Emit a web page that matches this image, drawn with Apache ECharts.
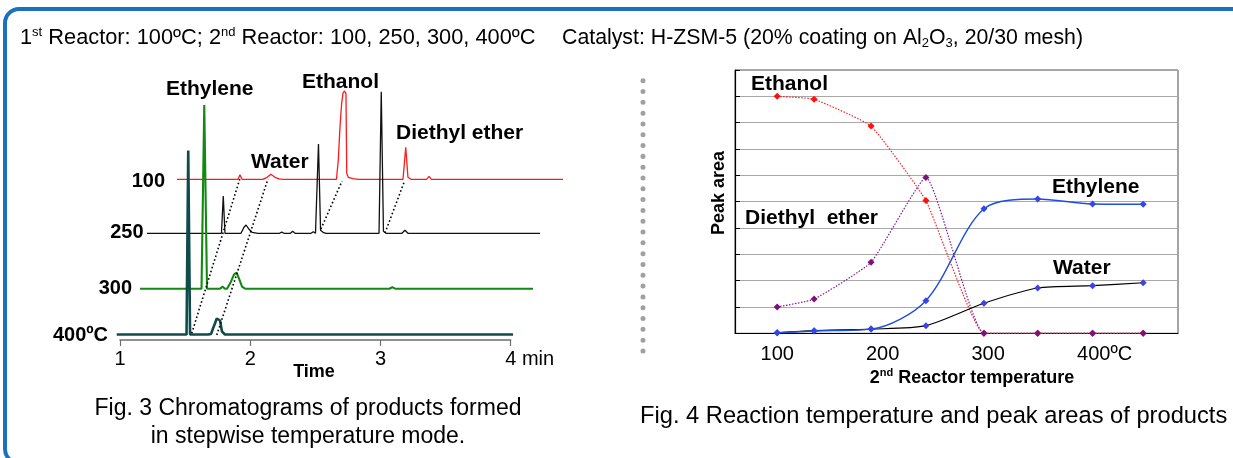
<!DOCTYPE html>
<html><head><meta charset="utf-8">
<script src="https://cdn.jsdelivr.net/npm/echarts@6/dist/echarts.min.js"></script>
<style>html,body{margin:0;padding:0;background:#fff}#c{width:1233px;height:458px}</style>
</head><body><div id="c"></div>
<script>
// ===== Fig. 3: chromatograms. Points are [time read on the axis (min), signal above the trace's own baseline]
const trace100 = [[1.438,0],[1.906,0],[1.921,4.5],[1.937,0],[2.098,0],[2.129,2],[2.159,5],[2.190,2],[2.221,0.5],[2.252,0],
  [2.662,0],[2.676,19],[2.689,52],[2.702,76],[2.712,86],[2.722,88.3],[2.735,86],[2.741,6],[2.753,2],[2.789,0.6],[2.828,0],
  [3.173,0],[3.194,32],[3.211,2],[3.234,0],[3.354,0],[3.373,3],[3.392,0],[4.402,0]];
const trace250 = [[1.207,0],[1.779,0],[1.793,37.3],[1.806,0],[1.929,0],[1.952,6],[1.968,8.3],[1.991,4],[2.014,1],[2.037,0.5],[2.060,0],
  [2.098,0],[2.113,1.5],[2.129,0],[2.225,0],[2.242,1.2],[2.259,0],[2.309,0],[2.326,2],[2.344,0],[2.398,0],[2.413,1.5],[2.428,0],
  [2.467,0],[2.484,1.5],[2.501,0],[2.524,89.3],[2.540,3],[2.559,1],[2.582,0],
  [2.989,0],[3.006,141.6],[3.023,2],[3.043,0],[3.165,0],[3.188,3],[3.211,0],[4.225,0]];
const trace300 = [[1.154,0],[1.626,0],[1.647,183.7],[1.668,0],[1.768,0],[1.789,2],[1.806,0],[1.822,0],[1.852,7],[1.875,14],
  [1.895,16],[1.914,10],[1.937,2],[1.960,0],[3.069,0],[3.091,1.5],[3.112,0],[4.171,0]];
const trace400 = [[0.975,0],[1.511,0],[1.524,184],[1.538,0],[1.676,0],[1.691,2],[1.699,0.5],[1.714,6],[1.729,11],[1.743,16],
  [1.753,17],[1.768,14],[1.783,3],[1.806,0],[4.018,0]];
const traceNames = ['100', '250', '300', '400ºC'];
const traceBaselines = [160.7, 106.7, 51.3, 5.5];
const timeTicks = [1, 2, 3, 4];
// dotted guide lines joining the same compound across traces: [time, level]
const guideEthylene = [[1.551, 6.7], [1.921, 161.5]];
const guideWater = [[1.743, 5], [2.136, 161]];
const guideEthanol = [[2.543, 111], [2.705, 159]];
const guideEther = [[3.035, 107], [3.185, 159]];
const peakNames = ['Ethylene', 'Water', 'Ethanol', 'Diethyl ether'];

// ===== Fig. 4: peak areas vs 2nd reactor temperature
const reactorTemps = [100, 135, 189, 241, 296, 347, 399, 447];
const ethanolArea = [9.0, 8.89, 7.87, 5.04, 0, 0, 0, 0];
const etherArea = [1.0, 1.3, 2.7, 5.92, 0, 0, 0, 0];
const ethyleneArea = [0.02, 0.09, 0.16, 1.24, 4.73, 5.10, 4.91, 4.90];
const waterArea = [0.02, 0.10, 0.16, 0.29, 1.14, 1.72, 1.81, 1.92];
const tempTicks = [100, 200, 300, 400];

const FF = '"Liberation Sans", Arial, sans-serif';
const chart = echarts.init(document.getElementById('c'), null, {renderer: 'canvas'});

// time scale shared by the trace grid (wide, hidden axis) and the visible axis grid
const PX_PER_MIN = 390.7 / 3;
const TRACE_MIN = 0.9, TRACE_MAX = 4.5;

const traces = [trace100, trace250, trace300, trace400];
const traceStyles = [
  {color: '#ff1a1a', width: 1.3},
  {color: '#111111', width: 1.3},
  {color: '#128a12', width: 2.1},
  {color: '#0f4b4b', width: 2.6}
];
const traceSeries = traces.map((tr, i) => ({
  type: 'line', xAxisIndex: 0, yAxisIndex: 0, symbol: 'none', clip: false, animation: false,
  data: tr.map(p => [p[0], p[1] + traceBaselines[i]]),
  lineStyle: traceStyles[i], z: 2 + i
}));
const guideSeries = [guideEthylene, guideWater, guideEthanol, guideEther].map(g => ({
  type: 'line', xAxisIndex: 0, yAxisIndex: 0, symbol: 'none', clip: false, animation: false,
  data: g, lineStyle: {color: '#000', width: 1.6, type: [1.6, 2.4]}, z: 10
}));

function xy(arr) { return reactorTemps.map((t, i) => [t, arr[i]]); }
const rightSeries = [
  {name: 'Ethanol', data: xy(ethanolArea), line: {color: '#ff2020', width: 1.2, type: [1.5, 1.5]}, mk: '#ff1010', sm: 0.12},
  {name: 'Diethyl ether', data: xy(etherArea), line: {color: '#8a1a8a', width: 1.2, type: [1.5, 1.5]}, mk: '#7a147a', sm: 0.14},
  {name: 'Water', data: xy(waterArea), line: {color: '#000', width: 1.2}, mk: '#3f43e0', sm: 0.25},
  {name: 'Ethylene', data: xy(ethyleneArea), line: {color: '#1d4fdc', width: 1.4}, mk: '#3446e6', sm: 0.3}
].map((s, i) => ({
  type: 'line', name: s.name, xAxisIndex: 2, yAxisIndex: 2, data: s.data, smooth: s.sm, animation: false,
  symbol: 'diamond', symbolSize: [7, 7], showSymbol: true,
  itemStyle: {color: s.mk, borderWidth: 0}, lineStyle: s.line, z: 3 + i
}));

function txt(x, y, text, size, opts) {
  opts = opts || {};
  return {
    type: 'text', x: x, y: y, z: 50, rotation: opts.rotation || 0,
    style: {
      text: text, fill: '#000',
      font: (opts.bold ? 'bold ' : '') + size + 'px ' + FF,
      textAlign: opts.align || 'left', textVerticalAlign: 'middle',
      rich: opts.rich
    }
  };
}
const supR = {sup: {font: '13px ' + FF, padding: [0, 0, 12, 0]}, sub: {font: '13px ' + FF, padding: [10, 0, 0, 0]}};
const supB = {sup: {font: 'bold 11px ' + FF, padding: [0, 0, 10, 0]}};

const graphics = [
  {type: 'rect', z: 0, shape: {x: 5, y: 9, width: 1262, height: 454, r: 14}, style: {fill: 'none', stroke: '#1b71c0', lineWidth: 4}},
  {type: 'line', z: 0, shape: {x1: 643, y1: 80.7, x2: 643, y2: 352}, style: {stroke: '#a0a0a0', lineWidth: 5, lineDash: [0.01, 10.8], lineCap: 'round'}},
  txt(20, 38, '1{sup|st} Reactor: 100ºC; 2{sup|nd} Reactor: 100, 250, 300, 400ºC', 21.8, {rich: supR}),
  txt(562, 38, 'Catalyst: H-ZSM-5 (20% coating on Al{sub|2}O{sub|3}, 20/30 mesh)', 21.3, {rich: supR}),
  // trace labels
  txt(165, 181, traceNames[0], 20, {bold: true, align: 'right'}),
  txt(143.5, 232.5, traceNames[1], 20, {bold: true, align: 'right'}),
  txt(132, 288.5, traceNames[2], 20, {bold: true, align: 'right'}),
  txt(108, 335, traceNames[3], 20, {bold: true, align: 'right'}),
  // peak labels (Fig. 3)
  txt(166, 89, peakNames[0], 21, {bold: true}),
  txt(251, 162, peakNames[1], 21, {bold: true}),
  txt(302, 82, peakNames[2], 21, {bold: true}),
  txt(396, 133, peakNames[3], 21, {bold: true}),
  txt(314, 372, 'Time', 18, {bold: true, align: 'center'}),
  txt(308, 409, 'Fig. 3 Chromatograms of products formed', 23, {align: 'center'}),
  txt(308, 437, 'in stepwise temperature mode.', 23, {align: 'center'}),
  // Fig. 4 labels
  txt(751, 84, 'Ethanol', 21, {bold: true}),
  txt(745, 218, 'Diethyl  ether', 21, {bold: true}),
  txt(1052, 187, 'Ethylene', 21, {bold: true}),
  txt(1053, 268.5, 'Water', 21, {bold: true}),
  txt(719, 193, 'Peak area', 18, {bold: true, align: 'center', rotation: Math.PI / 2}),
  txt(972, 378, '2{sup|nd} Reactor temperature', 18, {bold: true, align: 'center', rich: supB}),
  txt(640, 416, 'Fig. 4 Reaction temperature and peak areas of products', 23.7, {})
];

const option = {
  backgroundColor: '#fff',
  animation: false,
  grid: [
    // 0: traces (hidden axes, wide enough to hold the shifted traces)
    {left: 120 - (timeTicks[0] - TRACE_MIN) * PX_PER_MIN, top: 60, width: (TRACE_MAX - TRACE_MIN) * PX_PER_MIN, height: 280, outerBoundsMode: 'none'},
    // 1: visible time axis
    {left: 120, top: 60, width: 390.7, height: 280, outerBoundsMode: 'none'},
    // 2: Fig. 4
    {left: 735, top: 70, width: 443, height: 263.3, show: true, borderColor: '#4a4a4a', borderWidth: 1, backgroundColor: 'transparent', outerBoundsMode: 'none'}
  ],
  xAxis: [
    {gridIndex: 0, type: 'value', min: TRACE_MIN, max: TRACE_MAX, show: false},
    {
      gridIndex: 1, type: 'value', min: timeTicks[0], max: timeTicks[timeTicks.length - 1], interval: 1,
      axisLine: {show: true, lineStyle: {color: '#6e6e6e', width: 1.5}},
      axisTick: {show: true, length: 6, lineStyle: {color: '#6e6e6e', width: 1.2}},
      splitLine: {show: false},
      axisLabel: {
        margin: 9, color: '#000', fontSize: 20, fontFamily: FF,
        formatter: v => v === timeTicks[timeTicks.length - 1] ? '{p|}{t|' + v + ' min}' : '{t|' + v + '}',
        rich: {t: {fontSize: 20, fontFamily: FF, color: '#000'}, p: {width: 38}}
      }
    },
    {
      gridIndex: 2, type: 'value', min: 60, max: 480,
      axisLine: {show: true, onZero: false, lineStyle: {color: '#000', width: 1.2}},
      axisTick: {show: false},
      splitLine: {show: false},
      axisLabel: {
        customValues: tempTicks, margin: 11, color: '#000', fontSize: 20, fontFamily: FF,
        formatter: v => v === 400 ? '{p|}{t|400ºC}' : '{t|' + v + '}',
        rich: {t: {fontSize: 20, fontFamily: FF, color: '#000'}, p: {width: 22}}
      }
    }
  ],
  yAxis: [
    {gridIndex: 0, type: 'value', min: 0, max: 280, show: false},
    {gridIndex: 1, type: 'value', min: 0, max: 280, show: false},
    {
      gridIndex: 2, type: 'value', min: 0, max: 10, interval: 1,
      axisLine: {show: true, lineStyle: {color: '#000', width: 1.2}},
      axisTick: {show: true, inside: true, length: 5, lineStyle: {color: '#000'}},
      axisLabel: {show: false},
      splitLine: {show: true, lineStyle: {color: '#a8a8a8', width: 1}}
    }
  ],
  series: traceSeries.concat(guideSeries, rightSeries),
  graphic: {elements: graphics}
};
chart.setOption(option);
</script>
</body></html>
